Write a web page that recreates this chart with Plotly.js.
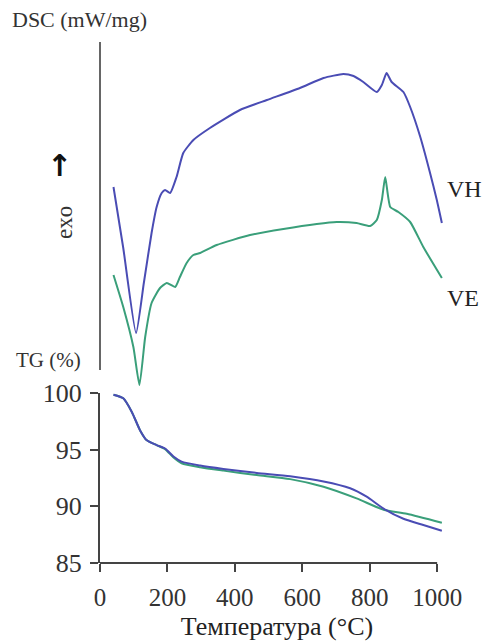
<!DOCTYPE html>
<html>
<head>
<meta charset="utf-8">
<script src="https://cdn.plot.ly/plotly-3.0.1.min.js"></script>
<style>html,body{margin:0;padding:0;background:#fff;}</style>
</head>
<body>
<div id="chart" style="width:486px;height:641px;"></div>
<script>
// DSC (arbitrary units, exo up)
const dscVH_T = [40, 69, 107, 130, 153, 168, 183, 193, 208, 227, 247, 277, 326, 415, 495, 593, 663, 722, 752, 781, 821, 836, 850, 865, 900, 920, 950, 979, 999, 1014];
const dscVH_Y = [20.6, 14.5, 6.0, 11.0, 16.0, 18.6, 20.0, 20.3, 20.0, 21.6, 24.0, 25.3, 26.5, 28.3, 29.3, 30.5, 31.5, 31.9, 31.7, 31.1, 30.1, 30.8, 32.0, 31.1, 30.1, 28.6, 25.6, 22.0, 19.3, 17.0];
const dscVE_T = [40, 69, 99, 117, 134, 153, 178, 198, 223, 237, 257, 277, 297, 346, 445, 544, 643, 702, 761, 801, 821, 836, 846, 861, 885, 920, 959, 1014];
const dscVE_Y = [11.8, 8.6, 4.6, 0.8, 5.6, 9.0, 10.5, 11.0, 10.6, 11.6, 13.0, 13.8, 14.0, 14.8, 15.8, 16.4, 16.9, 17.1, 17.0, 16.7, 17.3, 19.3, 21.6, 18.6, 18.1, 17.1, 14.6, 11.5];
// TG (%)
const tgVH_T = [40, 69, 94, 119, 138, 168, 193, 218, 242, 297, 366, 465, 564, 663, 742, 791, 841, 900, 959, 1014];
const tgVH_Y = [99.85, 99.53, 98.35, 96.7, 95.85, 95.4, 95.1, 94.4, 93.95, 93.6, 93.3, 92.95, 92.65, 92.2, 91.6, 90.85, 89.8, 88.9, 88.35, 87.85];
const tgVE_T = [40, 69, 94, 119, 138, 168, 193, 218, 242, 297, 366, 465, 564, 663, 761, 841, 910, 1014];
const tgVE_Y = [99.85, 99.53, 98.35, 96.7, 95.85, 95.4, 95.05, 94.3, 93.8, 93.45, 93.15, 92.76, 92.4, 91.73, 90.7, 89.7, 89.35, 88.55];

const xTicks = [0, 200, 400, 600, 800, 1000];
const yTicks = [85, 90, 95, 100];

const BLUE = '#4a4cb4';
const GREEN = '#3a9f7a';
const SERIF = 'Liberation Serif, Times New Roman, serif';

const traces = [
  {x: dscVH_T, y: dscVH_Y, xaxis: 'x', yaxis: 'y2', mode: 'lines', line: {color: BLUE, width: 2, shape: 'spline', smoothing: 0.5}, hoverinfo: 'skip'},
  {x: dscVE_T, y: dscVE_Y, xaxis: 'x', yaxis: 'y2', mode: 'lines', line: {color: GREEN, width: 2, shape: 'spline', smoothing: 0.5}, hoverinfo: 'skip'},
  {x: tgVE_T, y: tgVE_Y, xaxis: 'x', yaxis: 'y', mode: 'lines', line: {color: GREEN, width: 2, shape: 'spline', smoothing: 0.6}, hoverinfo: 'skip'},
  {x: tgVH_T, y: tgVH_Y, xaxis: 'x', yaxis: 'y', mode: 'lines', line: {color: BLUE, width: 2, shape: 'spline', smoothing: 0.6}, hoverinfo: 'skip'}
];

const W = 354, H = 521, L = 100, T = 42;
const px = v => (v - L) / W;
const py = v => (T + H - v) / H;

const layout = {
  width: 486, height: 641,
  margin: {l: L, r: 486 - L - W, t: T, b: 641 - T - H},
  paper_bgcolor: '#fff', plot_bgcolor: 'rgba(0,0,0,0)',
  showlegend: false,
  font: {family: SERIF, color: '#333'},
  xaxis: {
    range: [0, 1050], tickvals: xTicks, ticktext: xTicks.map(String),
    ticks: 'outside', ticklen: 8, tickwidth: 2, tickcolor: '#444',
    ticklabelstandoff: 4,
    showline: false, showgrid: false, zeroline: false, anchor: 'y',
    tickfont: {family: SERIF, size: 25, color: '#333'},
    title: {text: 'Температура (°C)', font: {family: SERIF, size: 26, color: '#222'}, standoff: 6}
  },
  yaxis: {
    domain: [0, 170 / H], range: [85, 100], tickvals: yTicks, ticktext: yTicks.map(String),
    ticks: 'outside', ticklen: 8, tickwidth: 2, tickcolor: '#444',
    ticklabelstandoff: 3,
    showline: true, linecolor: '#444', linewidth: 2,
    showgrid: false, zeroline: false, anchor: 'x',
    tickfont: {family: SERIF, size: 26, color: '#333'}
  },
  yaxis2: {
    domain: [170 / H, 1], range: [0, 35.1], visible: false, anchor: 'x', showgrid: false, zeroline: false
  },
  shapes: [
    {type: 'line', xref: 'paper', yref: 'paper', x0: 0, x1: 0, y0: py(370), y1: 1, line: {color: '#666', width: 2}},
    {type: 'line', xref: 'x', yref: 'paper', x0: 0, x1: 1000, y0: 0, y1: 0, line: {color: '#444', width: 2}}
  ],
  annotations: [
    {text: 'DSC (mW/mg)', xref: 'paper', yref: 'paper', x: px(10), y: py(20), xanchor: 'left', yanchor: 'middle', showarrow: false, font: {family: SERIF, size: 22, color: '#333'}},
    {text: 'TG (%)', xref: 'paper', yref: 'paper', x: px(14), y: py(360), xanchor: 'left', yanchor: 'middle', showarrow: false, font: {family: SERIF, size: 21, color: '#333'}},
    {text: 'exo', xref: 'paper', yref: 'paper', x: px(64), y: py(223), xanchor: 'center', yanchor: 'middle', textangle: -90, showarrow: false, font: {family: SERIF, size: 23, color: '#333'}},
    {text: '<b>↑</b>', xref: 'paper', yref: 'paper', x: px(59), y: py(165), xanchor: 'center', yanchor: 'middle', showarrow: false, font: {family: 'DejaVu Sans, sans-serif', size: 30, color: '#111'}},
    {text: 'VH', xref: 'paper', yref: 'paper', x: px(445), y: py(189), xanchor: 'left', yanchor: 'middle', showarrow: false, font: {family: SERIF, size: 24, color: '#222'}},
    {text: 'VE', xref: 'paper', yref: 'paper', x: px(445), y: py(298), xanchor: 'left', yanchor: 'middle', showarrow: false, font: {family: SERIF, size: 24, color: '#222'}}
  ]
};

Plotly.newPlot('chart', traces, layout, {staticPlot: true, displayModeBar: false});
</script>
</body>
</html>
